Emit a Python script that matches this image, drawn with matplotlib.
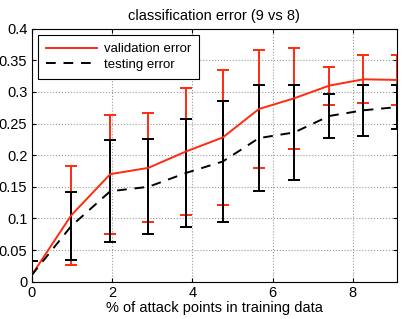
import matplotlib
matplotlib.use("Agg")
import matplotlib.pyplot as plt
import numpy as np

# % of attack points in training data
pct = [0, 0.99, 1.96, 2.91, 3.85, 4.76, 5.66, 6.54, 7.41, 8.26, 9.09]

val_err = [0.010, 0.105, 0.170, 0.180, 0.206, 0.228, 0.273, 0.290, 0.310, 0.320, 0.319]
val_std = [0.022, 0.078, 0.094, 0.086, 0.101, 0.107, 0.094, 0.080, 0.030, 0.038, 0.040]

test_err = [0.010, 0.088, 0.143, 0.150, 0.172, 0.190, 0.227, 0.236, 0.262, 0.271, 0.276]
test_std = [0.023, 0.054, 0.081, 0.075, 0.085, 0.096, 0.084, 0.075, 0.035, 0.040, 0.035]

red = '#ff2a0f'

plt.rcParams['font.family'] = ['Liberation Sans', 'DejaVu Sans']
plt.rcParams['font.size'] = 10

fig = plt.figure(figsize=(4.07, 3.19), dpi=100)
ax = fig.add_axes([0.0774, 0.117, 0.8973, 0.793])

# error bars first, lines on top
ax.errorbar(pct, val_err, yerr=val_std, fmt='none', ecolor=red,
            elinewidth=1.4, capsize=4, capthick=1.4, zorder=2)
ax.errorbar(pct, test_err, yerr=test_std, fmt='none', ecolor='black',
            elinewidth=1.4, capsize=4, capthick=1.4, zorder=3)
ax.plot(pct, val_err, '-', color=red, lw=1.4, label='validation error', zorder=4)
ax.plot(pct, test_err, '--', color='black', lw=1.4, dashes=(5, 4),
        label='testing error', zorder=4)

ax.set_xlim(0, 9.09)
ax.set_ylim(0, 0.4)
ax.set_xticks([0, 2, 4, 6, 8])
yt = np.arange(0, 0.41, 0.05)
ax.set_yticks(yt)
ax.set_yticklabels(['%g' % round(v, 2) for v in yt])
ax.tick_params(direction='in', top=True, right=True, length=3, labelsize=10.5, pad=3)
ax.grid(True, linestyle=':', color='#999999', linewidth=0.8)
ax.set_axisbelow(True)

ax.set_title('classification error (9 vs 8)', fontsize=10.5, pad=6)
ax.set_xlabel('% of attack points in training data', fontsize=10.5, labelpad=1)

leg = ax.legend(loc='upper left', fancybox=False, framealpha=1,
                edgecolor='black', handlelength=3.9, fontsize=9.5,
                borderaxespad=0.5, labelspacing=0.25, borderpad=0.6,
                handletextpad=0.5)
leg.get_frame().set_linewidth(0.8)

fig.savefig('out.png', dpi=100)
